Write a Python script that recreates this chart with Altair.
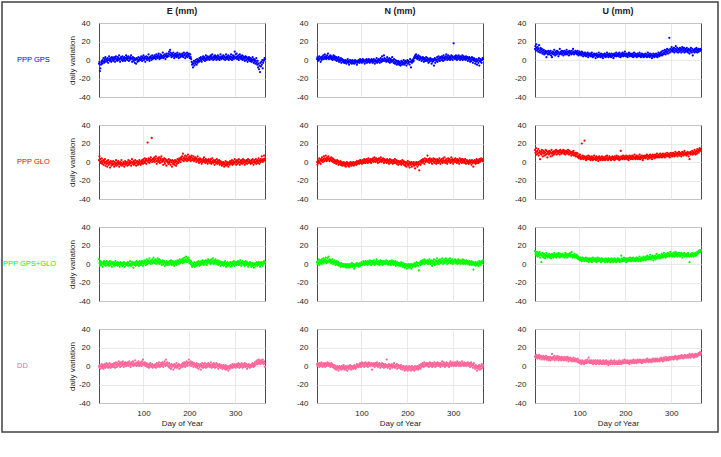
import altair as alt
import pandas as pd

# Daily coordinate variation (mm), one value per day, first value is day 3.
# ---- PPP GPS ----
gps_e = [
    -4, -2, -12, -9, -5, -3, -1, -4, 0, -2, 2, -3, -1, 1, 3, -2, 0, 1, -1, 2, -3, 0, 4, 1, -1, 2, 0, -2, 3, 1,
    2, -1, 0, 3, 1, -2, 2, 4, 0, 1, -1, 3, 2, 0, 5, 1, -2, 2, 3, 0, 1, 4, -1, 2, 0, 3, 1, -1, 2, 5,
    1, 3, 0, 2, 4, -1, 2, 0, 3, 1, 5, 2, -2, 1, 3, 0, -1, 2, -3, 1, 0, -4, 2, 1, -2, 0, 3, -1, 1, 2,
    0, 2, 4, 1, -1, 3, 2, 5, 0, 1, 3, -2, 2, 4, 1, 0, 3, 2, 6, 1, -1, 3, 2, 4, 0, 2, 5, 1, 3, 2,
    3, 5, 2, 4, 1, 6, 3, 4, 2, 5, 7, 3, 1, 4, 6, 2, 5, 3, 4, 8, 2, 5, 3, 6, 4, 1, 5, 7, 3, 4,
    5, 7, 4, 9, 6, 11, 8, 5, 3, 7, 6, 4, 8, 5, 2, 6, 4, 7, 5, 3, 6, 8, 4, 5, 2, 6, 7, 3, 5, 4,
    6, 4, 7, 5, 3, 8, 5, 6, 2, 7, 4, 5, 8, 3, 6, 5, 7, 4, 2, 6, 3, 1, -2, -5, -3, -8, -4, -1, -6, -2,
    -4, 0, -2, -5, 1, -3, -1, 0, -2, 2, -1, 1, 3, 0, -2, 2, 1, 4, 0, 2, 3, -1, 1, 5, 2, 0, 3, 4, 1, 2,
    3, 0, 4, 2, 5, 1, 3, 6, 2, 0, 4, 3, 1, 5, 2, 4, 0, 3, 2, 5, 1, 4, 2, 0, 3, 6, 2, 1, 4, 3,
    2, 5, 1, 3, 4, 0, 2, 6, 3, 1, 4, 2, 5, 0, 3, 2, 4, 1, 6, 3, 0, 2, 5, 3, 1, 4, 9, 2, 6, 3,
    7, 1, 4, 2, 5, 0, 3, 6, 2, 4, 1, 3, 5, 0, 2, 4, 1, 3, -1, 2, 4, 0, 3, 1, -2, 2, 0, 3, 1, -1,
    2, 0, -2, 1, -1, 3, 0, -3, 1, -2, 0, -4, -1, 2, -3, -5, -1, -8, -4, -10, -6, -13, -3, -7, -2, -5, 0, -9, -3, -1,
    0, 2, 1,
]
gps_n = [
    1, 3, -1, 2, 0, 4, 1, 2, -2, 3, 0, 1, 4, 2, 5, 1, 3, 6, 2, 4, 1, 3, 5, 2, 7, 3, 1, 4, 2, 5,
    3, 1, 4, 2, 0, 3, 5, 1, 2, 4, 0, 2, 3, -1, 1, 2, 0, 3, -2, 1, 0, -1, 2, -3, 0, 1, -2, -1, 0, -3,
    -1, -3, 0, -2, -4, -1, -2, 1, -3, -1, -5, -2, 0, -3, -1, -2, -4, 0, -2, -3, -1, -4, -2, 0, -3, -1, -2, -5, -1, -3,
    -2, 0, -1, -3, 1, -2, -1, 0, -3, -1, 1, -2, 0, -1, -4, -2, 0, -1, 1, -3, -1, 0, -2, 1, -1, -3, 0, -2, -1, 1,
    -1, -3, 0, -2, 1, -1, -4, 0, -2, -1, 2, -3, 0, -1, -2, 1, 0, -3, -1, 2, 0, -2, 4, 1, -1, 0, 5, 2, -1, 0,
    1, -2, 0, 3, -1, 1, -2, 0, 2, -3, -1, 1, 0, -2, 3, -1, 0, -3, 1, -2, -4, 0, -3, -1, -5, -2, -4, -1, -3, -5,
    -2, -4, -6, -3, -1, -5, -2, -4, -3, 0, -5, -2, -4, -1, -3, -6, -2, 0, -4, -1, -3, -2, -5, 1, -2, -8, -1, -3, 0, -2,
    1, -1, 3, 2, 5, 3, 6, 2, 4, 1, 3, 5, 2, 0, 4, 1, 3, 2, -1, 2, 0, 3, 1, -2, 2, 0, -1, 1, 3, 0,
    -1, 2, 0, -3, 1, -2, 0, 2, -1, 1, -4, 0, -2, 1, -1, -6, 0, 2, -3, 1, -1, 0, 3, -2, 1, 4, 0, 2, -1, 3,
    2, 0, 4, 1, 3, -1, 5, 2, 0, 3, 1, 4, 6, 2, 0, 3, 5, 1, 2, 4, 0, 3, 1, 5, 2, 4, 0, 3, 18, 2,
    4, 1, 3, 5, 2, 0, 4, 3, 1, 5, 2, 3, 0, 4, 2, 1, 3, 5, 0, 2, 4, 1, 3, 2, 0, 4, 1, 2, 3, -1,
    2, 0, 3, 1, -2, 2, 0, -1, 3, 1, -3, 0, 2, -1, 1, -4, 0, -2, 1, -5, -1, 0, -3, 2, -6, -1, 1, -2, 0, -3,
    0, 2, 1,
]
gps_u = [
    12, 15, 10, 17, 13, 11, 14, 9, 12, 16, 10, 8, 13, 11, 9, 12, 7, 10, 8, 11, 6, 9, 7, 10, 8, 3, 9, 7, 6, 10,
    8, 6, 9, 7, 10, 5, 8, 3, 7, 9, 6, 8, 11, 7, 5, 9, 8, 6, 10, 7, 9, 4, 8, 6, 12, 7, 9, 8, 6, 10,
    7, 9, 5, 8, 10, 7, 6, 9, 8, 11, 6, 7, 9, 8, 5, 10, 7, 9, 8, 6, 10, 7, 8, 12, 9, 6, 8, 7, 10, 8,
    9, 7, 6, 10, 8, 5, 7, 9, 6, 8, 7, 5, 9, 6, 8, 4, 7, 6, 5, 8, 6, 4, 7, 5, 6, 8, 3, 6, 5, 7,
    5, 7, 4, 6, 8, 5, 3, 6, 4, 7, 5, 6, 2, 5, 7, 4, 6, 3, 5, 8, 4, 6, 5, 3, 7, 5, 4, 6, 2, 5,
    6, 4, 7, 5, 3, 6, 4, 8, 5, 6, 3, 5, 7, 4, 6, 5, 3, 7, 4, 5, 6, 2, 5, 7, 4, 6, 5, 8, 4, 6,
    5, 7, 4, 6, 8, 5, 3, 6, 7, 4, 5, 8, 6, 4, 7, 5, 9, 6, 4, 7, 5, 6, 3, 7, 5, 8, 6, 4, 7, 5,
    6, 4, 7, 5, 3, 6, 8, 5, 4, 7, 5, 6, 3, 5, 7, 4, 6, 5, 8, 4, 6, 3, 5, 7, 4, 6, 5, 3, 6, 4,
    5, 7, 4, 6, 3, 5, 8, 4, 6, 5, 3, 7, 4, 5, 6, 2, 5, 4, 7, 5, 3, 6, 4, 5, 7, 4, 6, 3, 5, 8,
    6, 4, 7, 5, 8, 6, 9, 5, 7, 10, 6, 8, 7, 11, 9, 6, 10, 8, 12, 9, 7, 11, 10, 24, 8, 12, 9, 11, 14, 10,
    12, 9, 11, 13, 8, 10, 12, 15, 9, 11, 13, 10, 8, 12, 11, 9, 13, 10, 12, 8, 11, 14, 9, 12, 10, 13, 8, 11, 9, 12,
    10, 13, 9, 11, 8, 12, 10, 7, 11, 9, 13, 10, 8, 12, 5, 10, 9, 11, 8, 12, 10, 9, 13, 11, 8, 10, 12, 9, 11, 10,
    12, 10, 11,
]

# ---- PPP GLO ----
glo_e = [
    2, 6, 0, 3, -1, 1, 4, -2, 0, 2, -3, 1, -1, 3, -4, 0, -2, 1, -5, -1, 2, -3, 0, -2, -6, -1, 1, -4, -2, 0,
    -3, 1, -2, -5, 0, -3, -1, 2, -4, -2, 0, -3, 1, -1, -5, -2, 0, -3, -1, 2, -4, -2, -3, 0, -1, -5, -2, 1, -3, -1,
    -2, 0, -4, -1, 2, -3, 0, -2, 1, -1, -4, 0, 3, -2, -1, 1, -3, 0, -2, 2, -1, -4, 0, 1, -2, -3, 0, -1, 2, -2,
    0, -3, 1, -1, 2, 0, -2, 3, 1, -1, 4, 0, 2, -2, 3, 1, 21, 0, 4, 2, -1, 3, 1, 5, 2, 26, 0, 3, 1, 4,
    2, 5, 0, 3, 6, 1, -2, 4, 2, 0, 3, 5, 1, -1, 4, 2, 6, 0, 3, 1, -3, 2, 4, 0, -2, 3, 1, -4, 2, 0,
    1, -2, 3, 0, -1, 2, -3, 1, 0, -5, 2, -2, 0, 1, -3, -1, 2, 0, -4, 1, -2, 3, 0, -1, 2, 4, 1, 3, 0, 5,
    3, 6, 2, 9, 4, 1, 5, 3, 7, 2, 4, 6, 1, 3, 8, 5, 2, 4, 6, 3, 1, 5, 7, 2, 4, 3, 6, 1, 4, 2,
    5, 3, 0, 4, 2, 6, 1, 3, -1, 2, 4, 0, 3, 1, -2, 2, 0, 3, 1, 5, 0, 2, -1, 3, 1, 0, 2, -2, 1, 3,
    0, 2, -1, 1, 3, -2, 0, 4, 1, -1, 2, 0, -3, 1, 2, -1, 0, 3, -2, 1, -1, 0, 2, -3, -1, 1, -2, 0, -4, -1,
    -3, 0, -2, -5, -1, -3, 1, -4, -2, 0, -3, -1, -5, -2, 0, -3, 1, -1, -2, 0, 2, -3, -1, 1, -2, 0, 3, -1, 1, -3,
    0, 2, -2, 1, -1, 3, 0, -3, 1, -1, 2, 0, -2, 1, 3, -1, 0, 2, -3, 1, -1, 0, 2, -2, 1, 3, 0, -1, 2, 0,
    1, -2, 0, 2, -1, 3, 0, -3, 1, 2, -1, 0, 3, -2, 1, 0, 2, -1, 4, 1, -2, 2, 0, 3, 1, 6, 2, 0, 3, 1,
    7, 2, 4,
]
glo_n = [
    0, -3, 2, 1, -1, 4, 0, 2, -2, 3, 1, 5, 2, 0, 3, 6, 1, 4, 2, 7, 3, 1, 5, 2, 4, 6, 3, 1, 4, 2,
    3, 5, 1, 2, 4, 0, 3, 1, -1, 2, 0, 1, -2, 0, 2, -1, 1, -3, 0, -2, -1, 1, -3, 0, -2, -4, -1, -3, 0, -2,
    -4, -1, -3, -5, -2, 0, -3, -1, -4, -2, -5, -1, -3, 0, -2, -4, -1, -3, -2, 0, -4, -1, -3, -2, 0, -1, -3, 1, -2, 0,
    -1, 1, -2, 0, 2, -1, 1, 0, -2, 2, 0, 1, -1, 3, 0, 2, -1, 1, 3, 0, 2, -1, 4, 1, 2, 0, 3, 1, -1, 2,
    3, 1, 4, 0, 2, 5, 1, 3, 0, 4, 2, 1, 3, -1, 2, 4, 0, 3, 1, 5, 2, 0, 3, 1, 4, 2, -1, 3, 1, 2,
    0, 2, -1, 3, 1, 0, 2, -2, 1, 3, 0, -1, 2, 0, 1, -2, 2, 0, -1, 1, 3, -1, 0, 2, -2, 1, 0, -3, 1, -1,
    0, -2, 1, -1, -3, 0, 2, -2, -1, 1, -3, 0, -4, -2, 0, -5, -1, -3, 1, -2, -4, 0, -6, -2, -1, -3, 0, -5, -2, -1,
    -3, 0, -4, -2, -7, -1, -3, 0, -2, -5, -1, -3, 0, -9, -2, 1, -3, 0, 2, -1, 1, 3, 0, 2, -2, 4, 1, 0, 3, 2,
    1, 7, 0, 3, 2, -1, 4, 1, 2, 0, 3, -2, 1, 2, 4, 0, -1, 3, 1, 2, -2, 0, 3, 1, -1, 2, 0, 4, 1, -2,
    2, 0, 3, 1, -1, 4, 2, 0, 5, 1, -1, 2, 3, 0, -2, 1, 4, 2, 0, 3, 1, -1, 2, 5, 0, 3, 1, -2, 2, 0,
    3, 1, 4, 0, 2, -1, 3, 1, 0, 2, -2, 4, 1, 0, 3, 2, -1, 1, 3, 0, 2, -1, 1, 3, 0, -2, 1, 2, 0, -1,
    1, -2, 0, 2, -1, 1, 0, -3, 2, -1, 0, -5, 1, -1, 2, 0, -2, 1, 3, -1, 0, 2, -1, 1, 3, 0, 2, 1, 4, 2,
    3, 1, 2,
]
glo_u = [
    13, 10, 15, 8, 11, 12, 9, 14, 7, 10, 12, 3, 9, 11, 8, 13, 10, 6, 12, 9, 11, 7, 10, 13, 8, 12, 9, 5, 11, 10,
    8, 12, 9, 11, 6, 10, 13, 9, 7, 11, 10, 8, 12, 9, 11, 10, 13, 8, 11, 12, 9, 10, 12, 11, 8, 13, 10, 11, 9, 12,
    10, 11, 13, 9, 12, 10, 8, 11, 12, 10, 9, 11, 13, 10, 8, 12, 9, 11, 10, 7, 9, 11, 8, 10, 12, 7, 9, 8, 10, 6,
    8, 10, 6, 9, 5, 7, 4, 6, 8, 5, 3, 6, 20, 4, 7, 5, 3, 6, 23, 4, 5, 2, 6, 4, 3, 5, 7, 3, 4, 6,
    4, 2, 5, 3, 6, 4, 2, 5, 3, 7, 4, 3, 5, 2, 6, 4, 3, 5, 1, 4, 6, 3, 5, 2, 4, 3, 6, 4, 2, 5,
    3, 5, 4, 2, 6, 3, 4, 7, 5, 2, 4, 3, 6, 4, 5, 3, 2, 5, 4, 6, 3, 5, 4, 2, 6, 4, 3, 5, 7, 4,
    5, 3, 6, 4, 2, 5, 3, 12, 6, 4, 5, 3, 7, 4, 5, 6, 3, 5, 4, 7, 5, 3, 6, 4, 2, 5, 7, 4, 6, 3,
    5, 4, 7, 3, 6, 5, 4, 8, 5, 3, 6, 4, 7, 5, 3, 6, 4, 5, 8, 3, 6, 5, 4, 7, 5, 2, 6, 4, 7, 5,
    6, 4, 7, 5, 8, 6, 3, 7, 5, 6, 4, 8, 6, 5, 7, 3, 6, 8, 5, 7, 6, 4, 8, 6, 5, 7, 9, 6, 5, 7,
    8, 6, 5, 9, 7, 6, 8, 5, 7, 9, 6, 8, 7, 5, 9, 7, 8, 6, 10, 7, 8, 6, 9, 7, 5, 8, 10, 7, 9, 6,
    8, 10, 7, 9, 6, 8, 11, 7, 9, 8, 10, 6, 9, 8, 11, 7, 9, 10, 8, 6, 9, 11, 8, 10, 7, 9, 12, 8, 10, 9,
    7, 10, 8, 11, 9, 6, 10, 3, 9, 11, 8, 10, 9, 12, 8, 10, 11, 9, 13, 10, 8, 11, 12, 9, 14, 11, 13, 10, 12, 15,
    13, 14, 12,
]

# ---- PPP GPS+GLO ----
gg_e = [
    5, 1, -2, 3, 0, 2, -1, 1, -3, 2, 0, 3, -1, 1, 2, -2, 0, 3, 1, -1, 2, 0, -2, 1, 3, 0, -1, 2, -3, 1,
    0, 2, -1, 1, -2, 0, 3, -1, 1, 0, -2, 2, 0, -1, 1, -3, 0, 2, -1, 1, 0, -2, 1, -1, 2, 0, -3, 1, 0, -1,
    1, -1, 0, 2, -2, 1, 0, -1, 3, 0, -2, 1, -1, 2, 0, -4, 1, -1, 0, 2, -2, 1, 3, 0, -1, 2, 1, -2, 0, 3,
    1, -1, 2, 0, 3, 1, -2, 2, 0, 4, 1, 3, -1, 2, 5, 0, 3, 1, 4, 2, 6, 1, 3, 0, 4, 2, 5, 1, 3, 7,
    2, 4, 1, 5, 3, 0, 4, 2, 6, 1, 3, 5, 0, 2, 4, 1, 3, -1, 2, 4, 0, 1, 3, -2, 2, 0, 1, 3, -1, 2,
    0, 2, 1, -1, 3, 0, 2, 4, 1, -1, 2, 3, 0, 1, -2, 2, 0, 3, 1, -1, 2, 4, 1, 3, 0, 2, 5, 1, 3, 4,
    2, 5, 3, 1, 6, 4, 2, 7, 3, 5, 8, 4, 2, 6, 3, 7, 5, 1, 4, 2, 0, 3, -1, -3, 1, -2, 0, -1, 2, -3,
    -1, 1, -2, 0, 2, -1, 1, 3, 0, -2, 2, 1, -1, 3, 0, 2, 4, 1, -1, 2, 3, 0, 1, 4, 2, -1, 3, 1, 5, 2,
    3, 1, 4, 0, 2, 5, 1, 3, 6, 2, 0, 4, 1, 3, 5, 2, 0, 3, 1, 4, -1, 2, 0, 3, 1, -2, 2, 0, 1, -1,
    2, 0, -2, 1, -1, 3, 0, -3, 1, -1, 2, 0, -2, 1, -1, 0, 2, -3, 0, 1, -2, 2, 0, -1, 3, 1, -2, 0, 2, 1,
    -1, 2, 0, 3, 1, -1, 2, 0, 4, 1, -2, 2, 0, 3, 1, -1, 2, 0, -2, 1, 3, 0, -1, 2, 0, -3, 1, -1, 0, 2,
    -1, 1, -3, 0, -2, 1, -1, 0, -4, -1, 1, -2, 0, -1, 2, -2, 0, 1, -1, 2, 0, -3, 1, -1, 2, 0, 1, -2, 2, 0,
    3, 1, 2,
]
gg_n = [
    2, 0, 3, 1, 5, -1, 2, 4, 1, 3, 0, 5, 2, 4, 6, 1, 3, 5, 2, 7, 4, 1, 3, 6, 2, 8, 4, 3, 5, 2,
    4, 1, 3, 5, 2, 0, 3, 1, 4, 2, -1, 2, 0, 3, 1, -1, 2, 0, -2, 1, -1, 0, -3, 1, -2, 0, -1, -3, 0, -2,
    -1, -3, 0, -2, -4, -1, -3, 0, -2, -1, -4, -2, 0, -3, -1, -2, 1, -3, -1, 0, -2, -5, -1, -3, 0, -2, -1, 1, -2, 0,
    -1, -3, 0, 1, -2, 0, -1, 2, 0, -1, 1, 3, 0, 2, -1, 1, 3, 0, 2, 1, -1, 3, 0, 2, 1, 4, 0, 2, -1, 3,
    1, 3, 0, 2, 4, 1, -1, 2, 0, 3, 5, 1, 2, 0, 3, 1, -1, 2, 4, 0, 2, 1, 3, -1, 2, 0, 3, 1, 2, 0,
    2, 4, 1, 0, 3, 1, -1, 2, 0, 3, 1, -1, 2, 4, 0, 1, 3, -1, 2, 0, 1, 3, -2, 1, 0, 2, -1, 1, 0, -2,
    1, -1, 0, -2, 2, 0, -1, -3, 1, -2, 0, -4, -1, -3, 0, -2, -5, -1, -3, -2, 0, -4, -2, -1, -3, 0, -5, -2, -1, -3,
    0, -2, -1, 1, -3, 0, -2, 2, -1, 0, 1, -2, -7, 1, 0, 2, -1, 3, 1, 0, 4, 2, 1, 3, 5, 0, 2, 4, 1, 3,
    2, 4, 0, 3, 1, 5, 2, 0, 3, 1, 4, -2, 2, 0, 3, 5, 1, -1, 2, 4, 0, 3, 6, 1, 2, 4, 0, 3, 5, 2,
    1, 4, 2, 6, 3, 0, 4, 2, 5, 1, 3, 6, 2, 4, 0, 3, 5, 1, 4, 2, 6, 3, 1, 4, 2, 5, 0, 3, 1, 4,
    2, 5, 3, 1, 4, 2, 0, 3, 5, 1, 4, 2, 3, 0, 4, 2, 1, 3, 5, 0, 2, 4, 1, 3, 0, 2, 4, 1, 3, 0,
    2, 1, 3, -1, 2, 0, 1, 3, -1, 0, 2, -6, 1, -1, 0, 2, -2, 1, 0, -1, 2, 0, -2, 1, 3, 0, 2, -1, 1, 3,
    2, 1, 4,
]
gg_u = [
    14, 11, 12, 9, 13, 10, 8, 12, 11, 9, 13, 7, 10, 11, 2, 9, 12, 8, 10, 7, 11, 9, 6, 10, 8, 12, 9, 7, 10, 8,
    9, 11, 7, 10, 8, 6, 9, 11, 8, 10, 7, 9, 12, 8, 10, 9, 7, 11, 8, 10, 9, 12, 8, 10, 7, 11, 9, 8, 10, 9,
    11, 8, 10, 9, 7, 10, 12, 8, 9, 11, 7, 10, 9, 8, 11, 10, 9, 12, 8, 10, 13, 9, 7, 10, 8, 9, 11, 7, 9, 8,
    10, 7, 9, 6, 8, 5, 7, 6, 4, 7, 5, 6, 3, 5, 7, 4, 6, 5, 3, 6, 4, 7, 5, 3, 6, 4, 5, 2, 6, 4,
    5, 3, 6, 4, 2, 5, 7, 4, 3, 6, 4, 5, 3, 6, 2, 5, 4, 7, 3, 5, 4, 6, 3, 5, 2, 4, 6, 3, 5, 4,
    3, 5, 4, 2, 6, 4, 3, 5, 2, 4, 6, 3, 5, 4, 2, 5, 3, 6, 4, 3, 5, 2, 4, 6, 3, 5, 4, 2, 5, 3,
    4, 6, 3, 5, 4, 2, 5, 3, 9, 4, 6, 3, 5, 4, 7, 3, 5, 4, 6, 2, 5, 4, 3, 6, 4, 5, 3, 7, 4, 5,
    3, 6, 4, 5, 7, 3, 5, 4, 6, 3, 5, 7, 4, 6, 5, 3, 6, 4, 8, 5, 3, 6, 4, 7, 5, 6, 4, 8, 5, 6,
    7, 4, 6, 8, 5, 9, 6, 7, 5, 8, 6, 10, 7, 5, 8, 6, 9, 7, 4, 8, 6, 7, 9, 5, 8, 11, 7, 6, 9, 8,
    7, 10, 8, 6, 9, 7, 11, 8, 10, 7, 9, 12, 8, 10, 9, 7, 11, 9, 8, 10, 12, 9, 11, 8, 10, 13, 9, 11, 10, 8,
    11, 9, 12, 10, 8, 11, 13, 9, 10, 12, 8, 11, 10, 9, 12, 10, 8, 11, 9, 12, 10, 7, 11, 9, 10, 12, 8, 10, 11, 9,
    10, 8, 11, 9, 12, 10, 8, 2, 10, 9, 11, 8, 10, 12, 9, 10, 8, 11, 9, 10, 12, 9, 11, 10, 13, 11, 12, 14, 13, 15,
    14, 13, 15,
]

# ---- DD ----
dd_e = [
    0, -2, 1, -3, 0, -1, 2, -2, 0, 1, -3, -1, 2, 0, -2, 1, 3, -1, 0, 2, -2, 1, -1, 3, 0, -2, 2, 1, -1, 0,
    2, -1, 1, 3, 0, -2, 2, 4, 1, -1, 3, 0, 2, 5, 1, 3, -1, 2, 4, 0, 3, 1, 5, 2, -1, 3, 1, 4, 2, 0,
    3, 1, 4, 2, 0, 3, 5, 1, 2, -1, 3, 4, 1, 2, 5, 0, 3, 1, 2, 6, 1, 3, 0, 4, 2, 1, 5, 3, 0, 2,
    4, 1, 3, 0, 5, 2, 7, 3, 1, 2, 4, 0, 2, 1, 3, -1, 2, 0, 1, -2, 2, 0, 3, 1, -1, 0, 2, -2, 1, 0,
    -1, 1, 0, 2, -2, 1, 3, 0, -1, 2, 0, 4, 1, -1, 2, 3, 0, 1, 4, 2, -1, 3, 1, 5, 2, 0, 7, 3, 1, 4,
    2, 0, -1, 3, -2, 1, 0, -3, 2, -1, 0, 1, -4, 0, 2, -2, 1, -1, 0, 3, -2, 1, -1, 0, 2, -3, 1, 0, -2, 1,
    0, 2, -1, 3, 1, 0, 4, 2, -1, 3, 1, 5, 2, 0, 4, 3, 7, 1, 4, 2, 5, 0, 3, 1, 4, 2, -1, 3, 1, 0,
    2, -1, 1, 3, -2, 0, 2, -3, 1, -1, 0, 2, -4, 1, -1, 3, 0, -2, 2, 1, -1, 3, 0, -2, 1, 2, 0, -1, 3, 1,
    0, 2, -1, 1, 4, 0, -2, 2, 1, -1, 3, 0, 2, -2, 1, 0, 3, -1, 2, 0, -3, 1, -1, 2, 0, -2, 1, -1, 0, -3,
    -1, 1, -2, 0, -3, -1, 1, -4, -2, 0, -3, -1, -5, -2, 0, -3, -1, 1, -2, 0, -1, 2, -2, 0, 1, -1, 2, 0, -2, 1,
    0, 2, -1, 1, 3, 0, -2, 2, 1, -1, 0, 3, 1, -2, 2, 0, -1, 1, 3, 0, -1, 2, 0, -3, 1, -1, 2, 0, 1, -2,
    1, 0, -1, 2, 0, 3, 1, -1, 2, 0, 4, 1, 2, 5, 3, 6, 2, 4, 7, 3, 5, 6, 2, 4, 6, 3, 5, 7, 4, 2,
    5, 3, -1,
]
dd_n = [
    2, 0, 3, 1, 2, -1, 3, 1, 0, 2, 4, 1, -1, 2, 0, 3, 1, 2, -1, 3, 0, 2, 1, 4, 2, 0, 3, 1, 2, -1,
    1, 3, 0, 2, -1, 1, 0, -2, 1, -3, 0, -1, -4, -2, 0, -3, -1, -5, -2, 0, -3, -1, -2, -4, 0, -3, -1, -2, 1, -3,
    -1, -4, -2, 0, -3, -1, -5, -2, 0, -3, -1, -2, 1, -3, -1, -4, 0, -2, -1, -3, 0, -2, 1, -1, -3, 0, -2, 2, -1, 0,
    1, -1, 2, 0, 3, 1, -1, 2, 4, 0, 3, 1, 2, -1, 3, 1, 4, 0, 2, 3, 1, -1, 2, 4, 1, 3, 0, 2, 1, 3,
    -4, 2, 0, 3, 1, 2, -1, 3, 1, 0, 2, 4, 1, -1, 2, 0, 3, 1, -2, 2, 0, 1, 3, -1, 0, 2, -2, 1, 0, 2,
    -1, 1, 7, 0, -2, 1, -1, 2, 0, -3, 1, -1, 0, 2, -2, 0, 1, -1, 3, 0, -2, 1, -1, 0, 2, -3, 0, -1, 1, -2,
    0, -1, -3, 1, -2, 0, -4, -1, -2, 0, -3, -5, -1, -2, -4, 0, -3, -1, -5, -2, -3, 0, -4, -2, -1, -5, -3, 0, -2, -4,
    -1, -3, -5, -2, 0, -4, -1, -3, -2, 0, -4, -1, -3, 1, -2, 0, -3, 2, -1, 1, 3, 0, 2, -1, 4, 1, 2, 0, 3, 1,
    2, 0, 3, 1, -1, 2, 4, 0, 3, 1, 2, -1, 3, 1, 0, 2, 4, 1, -1, 2, 3, 0, 1, 4, 2, 0, 3, 1, 2, -1,
    3, 1, 2, 5, 0, 2, 4, 1, 3, -1, 2, 0, 4, 1, 2, 3, 0, 2, -1, 3, 1, 5, 2, 0, 3, 1, 4, 2, 0, 3,
    1, 4, 2, 0, 3, 1, 5, 2, 3, 0, 2, 4, 1, 3, 0, 2, 5, 1, 3, 2, 0, 4, 1, 3, 2, 0, 3, 1, 2, 4,
    2, 0, 3, 1, -1, 2, 4, 0, 2, 1, -2, 1, 3, 0, -1, -3, 1, -2, 0, -5, -1, -3, 0, -2, 1, -4, -1, 0, -3, 2,
    0, -2, 1,
]
dd_u = [
    10, 11, 9, 12, 10, 8, 11, 9, 10, 12, 8, 10, 9, 11, 7, 10, 9, 8, 11, 9, 7, 10, 8, 9, 11, 7, 9, 8, 10, 6,
    9, 7, 8, 10, 6, 9, 8, 13, 7, 9, 10, 8, 11, 6, 9, 8, 10, 7, 9, 11, 8, 6, 9, 10, 7, 8, 9, 6, 10, 8,
    7, 9, 8, 6, 10, 7, 8, 9, 6, 8, 10, 7, 9, 5, 8, 7, 9, 6, 8, 7, 5, 8, 6, 7, 9, 5, 7, 6, 8, 5,
    6, 7, 5, 8, 4, 6, 5, 3, 6, 4, 5, 2, 4, 6, 3, 5, 4, 2, 5, 3, 6, 4, 5, 3, 7, 4, 5, 9, 4, 6,
    3, 5, 4, 6, 3, 5, 4, 2, 6, 5, 3, 4, 6, 2, 5, 4, 3, 6, 4, 5, 2, 4, 6, 3, 5, 4, 2, 5, 3, 6,
    4, 2, 5, 3, 4, 6, 2, 4, 3, 5, 1, 4, 3, 5, 2, 4, 6, 3, 4, 2, 5, 3, 4, 6, 2, 4, 3, 5, 4, 2,
    3, 5, 4, 2, 6, 3, 4, 5, 2, 4, 3, 6, 4, 5, 3, 7, 4, 5, 6, 3, 5, 4, 6, 3, 5, 4, 2, 5, 6, 4,
    5, 3, 6, 4, 5, 7, 3, 5, 4, 6, 5, 3, 6, 4, 7, 5, 4, 6, 5, 7, 4, 6, 5, 3, 6, 5, 7, 4, 6, 5,
    6, 4, 7, 5, 6, 8, 5, 6, 4, 7, 6, 5, 7, 6, 4, 7, 5, 8, 6, 7, 5, 6, 8, 5, 7, 6, 8, 5, 7, 6,
    7, 5, 8, 6, 7, 9, 6, 7, 8, 5, 7, 9, 6, 8, 7, 10, 6, 8, 9, 7, 8, 6, 9, 7, 10, 8, 7, 9, 8, 10,
    8, 9, 7, 10, 8, 9, 11, 8, 10, 9, 7, 10, 8, 11, 9, 10, 8, 11, 9, 10, 12, 9, 10, 8, 11, 10, 9, 12, 10, 11,
    9, 11, 10, 12, 9, 11, 10, 13, 11, 9, 12, 10, 11, 13, 10, 12, 11, 9, 12, 10, 13, 11, 12, 10, 13, 11, 12, 14, 12, 13,
    15, 12, 14,
]

FIRST_DAY = 3
components = ["E (mm)", "N (mm)", "U (mm)"]
solutions = ["PPP GPS", "PPP GLO", "PPP GPS+GLO", "DD"]
colors = ["#0000ff", "#ff0000", "#00ff00", "#ff6699"]
series = [
    [gps_e, gps_n, gps_u],
    [glo_e, glo_n, glo_u],
    [gg_e, gg_n, gg_u],
    [dd_e, dd_n, dd_u],
]

# panel geometry and styling
W, H = 166, 74
ROW_GAP, COL_GAP = 28, 52
FONT = "Liberation Sans"
TEXT = "#262626"
label_left = [-82, -82, -96, -82]

panels = []
n_rows = len(solutions)
for r, (name, color, row_series) in enumerate(zip(solutions, colors, series)):
    for c, (comp, vals) in enumerate(zip(components, row_series)):
        df = pd.DataFrame({
            "day": list(range(FIRST_DAY, FIRST_DAY + len(vals))),
            "value": vals,
        })
        bottom = r == n_rows - 1

        if bottom:
            x_axis = alt.Axis(values=[100, 200, 300], grid=True, ticks=False, domain=False,
                              labelPadding=6, titlePadding=2, labelFlush=False)
        else:
            x_axis = alt.Axis(values=[100, 200, 300], grid=True, ticks=False, domain=False,
                              labels=False)
        y_axis = alt.Axis(values=[-40, -20, 0, 20, 40], grid=True, ticks=False, domain=False,
                          labelPadding=9, titlePadding=2, labelExpr="'' + datum.value")

        points = alt.Chart(df).mark_circle(size=5, opacity=1, color=color).encode(
            x=alt.X("day:Q", scale=alt.Scale(domain=[FIRST_DAY, 365], nice=False, zero=False),
                    axis=x_axis, title="Day of Year" if bottom else None),
            y=alt.Y("value:Q", scale=alt.Scale(domain=[-40, 40], nice=False),
                    axis=y_axis, title="daily variation" if c == 0 else None),
        )

        layers = [points]
        if c == 0:
            lab = pd.DataFrame({"label": [name]})
            layers.append(
                alt.Chart(lab).mark_text(align="left", baseline="middle", fontSize=7.5,
                                         font=FONT, color=color).encode(
                    x=alt.value(label_left[r]), y=alt.value(H / 2), text="label:N")
            )
        if bottom and c == 0:
            # outer figure border, drawn from the bottom-left panel
            top = -(n_rows - 1) * (H + ROW_GAP) - 21
            border = pd.DataFrame({"k": [0]})
            layers.append(
                alt.Chart(border).mark_rect(fillOpacity=0, stroke="#404040", strokeWidth=1.5).encode(
                    x=alt.value(-97), x2=alt.value(619), y=alt.value(top), y2=alt.value(H + 29))
            )

        panel = alt.layer(*layers).properties(width=W, height=H)
        if r == 0:
            panel = panel.properties(
                title=alt.TitleParams(comp, fontSize=9, fontWeight="bold", font=FONT,
                                      color="#1a1a1a", offset=3, anchor="middle"))
        panels.append(panel)

chart = alt.concat(*panels, columns=3).properties(
    spacing={"row": ROW_GAP, "column": COL_GAP},
    bounds="flush",
    padding=0,
    background="white",
).configure_view(
    stroke="#4d4d4d", strokeWidth=1
).configure_axis(
    labelFont=FONT, titleFont=FONT, labelFontSize=8, titleFontSize=8,
    labelColor=TEXT, titleColor=TEXT, titleFontWeight="normal",
    gridColor="#e3e3e3", gridWidth=0.8,
)

chart.save("out.html", embed_options={"renderer": "svg", "actions": False})
